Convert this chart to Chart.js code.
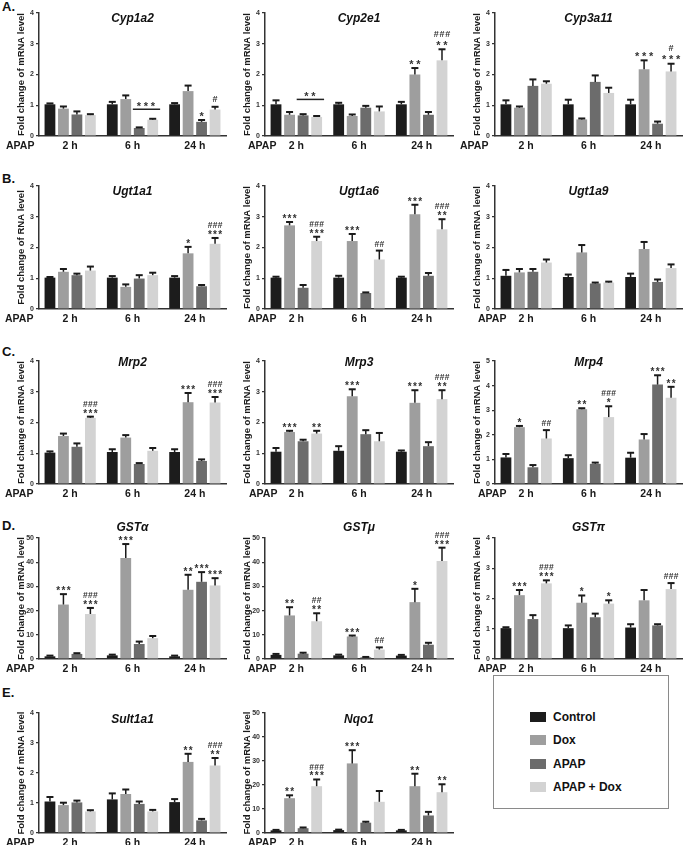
<!DOCTYPE html>
<html><head><meta charset="utf-8">
<script src="https://cdn.jsdelivr.net/npm/chart.js@4.4.1/dist/chart.umd.min.js"></script>
<style>
html,body{margin:0;padding:0;width:685px;height:845px;overflow:hidden;background:#fff;}
body{position:relative;font-family:"Liberation Sans",Arial,sans-serif;}
canvas{position:absolute;}
.panel{position:absolute;left:2px;font-weight:bold;font-size:13px;line-height:14px;color:#111;}
#legend{position:absolute;left:493px;top:675px;width:176px;height:134px;border:1px solid #8a8a8a;box-sizing:border-box;}
.li{position:absolute;font-weight:bold;font-size:12px;line-height:13px;color:#111;white-space:nowrap;}
.sw{position:absolute;left:-23px;top:1px;width:16px;height:10px;}
</style></head><body>
<div class="panel" style="top:0px">A.</div>
<div class="panel" style="top:172px">B.</div>
<div class="panel" style="top:345px">C.</div>
<div class="panel" style="top:519px">D.</div>
<div class="panel" style="top:686px">E.</div>
<div id="legend"></div>
<script>
// ---------- data ----------
const timePoints = ['2 h', '6 h', '24 h'];
const groupNames = ['Control', 'Dox', 'APAP', 'APAP + Dox'];

// rows = groups (Control, Dox, APAP, APAP + Dox), columns = time points
const cyp1a2Mean = [[1.03,1.03,1.03],[0.89,1.20,1.46],[0.70,0.26,0.46],[0.68,0.53,0.86]];
const cyp1a2Err  = [[0.03,0.08,0.04],[0.07,0.12,0.18],[0.10,0.02,0.06],[0.03,0.03,0.09]];
const cyp1a2Sig  = [[2,2,'*',''],[2,3,'','#']];
const cyp1a2Brk  = [[1,2,3,0.87,'***']];

const cyp2e1Mean = [[1.03,1.03,1.03],[0.69,0.65,2.00],[0.67,0.92,0.69],[0.62,0.80,2.46]];
const cyp2e1Err  = [[0.13,0.05,0.08],[0.09,0.05,0.21],[0.04,0.06,0.09],[0.03,0.16,0.36]];
const cyp2e1Sig  = [[2,1,'**',''],[2,3,'**','###']];
const cyp2e1Brk  = [[0,2,3,1.19,'**']];

const cyp3a11Mean = [[1.03,1.03,1.03],[0.92,0.54,2.17],[1.63,1.76,0.40],[1.70,1.40,2.10]];
const cyp3a11Err  = [[0.13,0.15,0.15],[0.04,0.03,0.29],[0.21,0.21,0.07],[0.08,0.17,0.25]];
const cyp3a11Sig  = [[2,1,'***',''],[2,3,'***','#']];

const ugt1a1Mean = [[1.02,1.02,1.02],[1.21,0.72,1.81],[1.10,0.99,0.74],[1.25,1.10,2.12]];
const ugt1a1Err  = [[0.02,0.05,0.05],[0.09,0.08,0.21],[0.05,0.11,0.04],[0.13,0.08,0.19]];
const ugt1a1Sig  = [[2,1,'*',''],[2,3,'***','###']];

const ugt1a6Mean = [[1.02,1.02,1.02],[2.72,2.21,3.08],[0.69,0.52,1.08],[2.21,1.61,2.59]];
const ugt1a6Err  = [[0.03,0.06,0.03],[0.11,0.23,0.31],[0.09,0.02,0.09],[0.14,0.29,0.33]];
const ugt1a6Sig  = [[0,1,'***',''],[0,3,'***','###'],[1,1,'***',''],[1,3,'','##'],[2,1,'***',''],[2,3,'**','###']];

const ugt1a9Mean = [[1.08,1.04,1.04],[1.19,1.84,1.95],[1.21,0.83,0.88],[1.51,0.86,1.33]];
const ugt1a9Err  = [[0.19,0.08,0.11],[0.11,0.24,0.23],[0.09,0.03,0.08],[0.10,0.03,0.12]];
const ugt1a9Sig  = [];

const mrp2Mean = [[1.02,1.04,1.04],[1.56,1.51,2.66],[1.21,0.65,0.75],[2.15,1.08,2.65]];
const mrp2Err  = [[0.04,0.09,0.09],[0.08,0.08,0.30],[0.11,0.03,0.05],[0.04,0.09,0.18]];
const mrp2Sig  = [[0,3,'***','###'],[2,1,'***',''],[2,3,'***','###']];

const mrp3Mean = [[1.05,1.08,1.05],[1.69,2.85,2.64],[1.39,1.62,1.23],[1.64,1.39,2.76]];
const mrp3Err  = [[0.12,0.15,0.04],[0.04,0.23,0.41],[0.05,0.13,0.13],[0.09,0.27,0.29]];
const mrp3Sig  = [[0,1,'***',''],[0,3,'**',''],[1,1,'***',''],[2,1,'***',''],[2,3,'**','###']];

const mrp4Mean = [[1.08,1.05,1.07],[2.31,3.04,1.81],[0.68,0.82,4.04],[1.85,2.72,3.51]];
const mrp4Err  = [[0.14,0.12,0.20],[0.05,0.04,0.22],[0.09,0.05,0.38],[0.34,0.44,0.44]];
const mrp4Sig  = [[0,1,'*',''],[0,3,'','##'],[1,1,'**',''],[1,3,'*','###'],[2,2,'***',''],[2,3,'**','']];

const gstaMean = [[1.1,1.5,1.1],[22.5,41.7,28.6],[2.1,6.2,31.9],[18.6,8.6,30.4]];
const gstaErr  = [[0.3,0.3,0.3],[4.3,5.8,6.2],[0.3,1.0,4.0],[2.5,0.9,3.0]];
const gstaSig  = [[0,1,'***',''],[0,3,'***','###'],[1,1,'***',''],[2,1,'**',''],[2,2,'***',''],[2,3,'***','']];

const gstmMean = [[1.7,1.5,1.4],[18.0,9.3,23.5],[2.2,0.7,5.9],[15.6,3.9,40.5]];
const gstmErr  = [[0.4,0.3,0.3],[3.4,0.4,5.5],[0.4,0.15,0.8],[3.3,0.9,5.5]];
const gstmSig  = [[0,1,'**',''],[0,3,'**','##'],[1,1,'***',''],[1,3,'','##'],[2,1,'*',''],[2,3,'***','###']];

const gstpMean = [[1.02,1.02,1.04],[2.11,1.86,1.94],[1.32,1.38,1.11],[2.50,1.83,2.31]];
const gstpErr  = [[0.03,0.09,0.11],[0.17,0.24,0.34],[0.13,0.12,0.04],[0.10,0.11,0.20]];
const gstpSig  = [[0,1,'***',''],[0,3,'***','###'],[1,1,'*',''],[1,3,'*',''],[2,3,'','###']];

const sult1a1Mean = [[1.05,1.12,1.03],[0.93,1.30,2.37],[1.02,0.97,0.42],[0.72,0.72,2.25]];
const sult1a1Err  = [[0.15,0.20,0.10],[0.08,0.15,0.27],[0.06,0.08,0.05],[0.04,0.05,0.25]];
const sult1a1Sig  = [[2,1,'**',''],[2,3,'**','###']];

const nqo1Mean = [[1.1,1.2,1.1],[14.5,29.0,19.5],[2.0,4.3,7.3],[19.5,13.0,17.0]];
const nqo1Err  = [[0.2,0.2,0.2],[1.2,5.5,5.2],[0.3,0.4,1.5],[2.8,4.5,3.3]];
const nqo1Sig  = [[0,1,'**',''],[0,3,'***','###'],[1,1,'***',''],[2,1,'**',''],[2,3,'**','']];

const yTitleMRNA = 'Fold change of mRNA level';
const yTitleRNA  = 'Fold change of RNA level';

// ---------- layout / style ----------
const groupColors = ['#1c1c1c','#9e9e9e','#6c6c6c','#d3d3d3'];
const rowGeom = [
  {top:13,  bottom:136, titleDy:5.5, sf:11, sp:7,   hf:9,   hp:5.8, sOff:7, hOff:16},
  {top:186, bottom:309, titleDy:6,   sf:10, sp:5.2, hf:8.5, hp:5,   sOff:6, hOff:13},
  {top:361, bottom:484, titleDy:2,   sf:10, sp:5.2, hf:8.5, hp:5,   sOff:6, hOff:13},
  {top:538, bottom:659, titleDy:-10, sf:10, sp:5.2, hf:8.5, hp:5,   sOff:6, hOff:13},
  {top:713, bottom:833, titleDy:7,   sf:10, sp:5.2, hf:8.5, hp:5,   sOff:6, hOff:13}
];
const colGeom = [
  {canvasLeft:0,   plotLeft:39,  plotRight:226},
  {canvasLeft:226, plotLeft:265, plotRight:453},
  {canvasLeft:456, plotLeft:495, plotRight:682}
];

const panels = [
  {title:'Cyp1a2',  row:0,col:0,ymax:4, step:1, mean:cyp1a2Mean, err:cyp1a2Err, sig:cyp1a2Sig, brk:cyp1a2Brk, yt:yTitleMRNA, apap:6},
  {title:'Cyp2e1',  row:0,col:1,ymax:4, step:1, mean:cyp2e1Mean, err:cyp2e1Err, sig:cyp2e1Sig, brk:cyp2e1Brk, yt:yTitleMRNA, apap:22},
  {title:'Cyp3a11', row:0,col:2,ymax:4, step:1, mean:cyp3a11Mean,err:cyp3a11Err,sig:cyp3a11Sig,brk:[], yt:yTitleMRNA, apap:4},
  {title:'Ugt1a1',  row:1,col:0,ymax:4, step:1, mean:ugt1a1Mean, err:ugt1a1Err, sig:ugt1a1Sig, brk:[], yt:yTitleRNA, apap:5},
  {title:'Ugt1a6',  row:1,col:1,ymax:4, step:1, mean:ugt1a6Mean, err:ugt1a6Err, sig:ugt1a6Sig, brk:[], yt:yTitleMRNA, apap:22},
  {title:'Ugt1a9',  row:1,col:2,ymax:4, step:1, mean:ugt1a9Mean, err:ugt1a9Err, sig:ugt1a9Sig, brk:[], yt:yTitleMRNA, apap:22},
  {title:'Mrp2',    row:2,col:0,ymax:4, step:1, mean:mrp2Mean, err:mrp2Err, sig:mrp2Sig, brk:[], yt:yTitleMRNA, apap:5},
  {title:'Mrp3',    row:2,col:1,ymax:4, step:1, mean:mrp3Mean, err:mrp3Err, sig:mrp3Sig, brk:[], yt:yTitleMRNA, apap:23},
  {title:'Mrp4',    row:2,col:2,ymax:5, step:1, mean:mrp4Mean, err:mrp4Err, sig:mrp4Sig, brk:[], yt:yTitleMRNA, apap:22},
  {title:'GSTα',    row:3,col:0,ymax:50,step:10,mean:gstaMean, err:gstaErr, sig:gstaSig, brk:[], yt:yTitleMRNA, apap:6},
  {title:'GSTμ',    row:3,col:1,ymax:50,step:10,mean:gstmMean, err:gstmErr, sig:gstmSig, brk:[], yt:yTitleMRNA, apap:22},
  {title:'GSTπ',    row:3,col:2,ymax:4, step:1, mean:gstpMean, err:gstpErr, sig:gstpSig, brk:[], yt:yTitleMRNA, apap:22},
  {title:'Sult1a1', row:4,col:0,ymax:4, step:1, mean:sult1a1Mean,err:sult1a1Err,sig:sult1a1Sig,brk:[], yt:yTitleMRNA, apap:6},
  {title:'Nqo1',    row:4,col:1,ymax:50,step:10,mean:nqo1Mean, err:nqo1Err, sig:nqo1Sig, brk:[], yt:yTitleMRNA, apap:22}
];

const FONT = '"Liberation Sans", Arial, sans-serif';
Chart.defaults.font.family = FONT;

function drawSpaced(ctx, text, cx, baseline, pitch){
  const n = text.length;
  const x0 = cx - (n-1)*pitch/2;
  for (let i=0;i<n;i++) ctx.fillText(text[i], x0 + i*pitch, baseline);
}

function makePanel(p){
  const rg = rowGeom[p.row], cg = colGeom[p.col];
  const canvasTop = Math.max(0, rg.top - 24);
  const padTop = rg.top - canvasTop;
  const w = cg.plotRight - cg.canvasLeft + 3;
  const h = rg.bottom - canvasTop + 20;
  const cv = document.createElement('canvas');
  cv.width = w; cv.height = h;
  cv.style.left = cg.canvasLeft + 'px'; cv.style.top = canvasTop + 'px';
  cv.style.width = w + 'px'; cv.style.height = h + 'px';
  document.body.appendChild(cv);

  const annot = {
    id: 'annot_' + p.title,
    afterDatasetsDraw(chart){
      const ctx = chart.ctx, ys = chart.scales.y;
      ctx.save();
      ctx.strokeStyle = '#1a1a1a';
      for (let g=0; g<4; g++){
        const meta = chart.getDatasetMeta(g);
        meta.data.forEach((el, t) => {
          const top = ys.getPixelForValue(p.mean[g][t] + p.err[g][t]);
          ctx.lineWidth = 1.5;
          ctx.beginPath(); ctx.moveTo(el.x, el.y); ctx.lineTo(el.x, top); ctx.stroke();
          ctx.lineWidth = 2;
          ctx.beginPath(); ctx.moveTo(el.x-3.5, top); ctx.lineTo(el.x+3.5, top); ctx.stroke();
        });
      }
      ctx.fillStyle = '#333';
      ctx.textAlign = 'center';
      ctx.textBaseline = 'alphabetic';
      p.sig.forEach(([t,g,stars,hashes]) => {
        const el = chart.getDatasetMeta(g).data[t];
        const top = ys.getPixelForValue(p.mean[g][t] + p.err[g][t]);
        if (stars){
          ctx.font = 'bold ' + rg.sf + 'px ' + FONT;
          drawSpaced(ctx, stars, el.x, top - rg.sOff + 0.6*rg.sf, rg.sp);
        }
        if (hashes){
          const cy = stars ? top - rg.hOff : top - rg.sOff - 1;
          ctx.font = 'bold ' + rg.hf + 'px ' + FONT;
          drawSpaced(ctx, hashes, el.x, cy + 0.36*rg.hf, rg.hp);
        }
      });
      p.brk.forEach(([t,g1,g2,level,stars]) => {
        const e1 = chart.getDatasetMeta(g1).data[t], e2 = chart.getDatasetMeta(g2).data[t];
        const y = ys.getPixelForValue(level);
        ctx.strokeStyle = '#222'; ctx.lineWidth = 1.5;
        ctx.beginPath(); ctx.moveTo(e1.x - e1.width/2 - 1, y); ctx.lineTo(e2.x + e2.width/2 + 2, y); ctx.stroke();
        ctx.font = 'bold ' + rg.sf + 'px ' + FONT;
        drawSpaced(ctx, stars, (e1.x + e2.x)/2, y - 6 + 0.6*rg.sf, rg.sp);
      });
      ctx.restore();
    },
    afterDraw(chart){
      const ctx = chart.ctx, ca = chart.chartArea;
      ctx.save();
      ctx.fillStyle = '#111';
      ctx.font = 'italic bold 12px ' + FONT;
      ctx.textAlign = 'center'; ctx.textBaseline = 'middle';
      ctx.fillText(p.title, (ca.left + ca.right)/2, ca.top + rg.titleDy);
      ctx.font = 'bold 10.5px ' + FONT;
      ctx.textAlign = 'left';
      ctx.fillStyle = '#1a1a1a';
      ctx.fillText('APAP', p.apap, ca.bottom + 10.3);
      ctx.restore();
    }
  };

  new Chart(cv, {
    type: 'bar',
    data: {
      labels: timePoints,
      datasets: groupNames.map((n,g) => ({
        label: n, data: p.mean[g], backgroundColor: groupColors[g],
        borderWidth: 0, barPercentage: 0.8, categoryPercentage: 0.865
      }))
    },
    options: {
      responsive: false, animation: false, devicePixelRatio: 1,
      layout: {padding: {top: padTop, right: 3, bottom: 0, left: 0}},
      plugins: {legend: {display: false}, tooltip: {enabled: false}, title: {display: false}},
      scales: {
        x: {
          grid: {display: false, drawTicks: false},
          border: {display: true, color: '#333', width: 1.5},
          ticks: {font: {size: 10.5, weight: 'bold'}, color: '#1a1a1a', padding: 4, maxRotation: 0, autoSkip: false},
          afterFit: s => { s.height = 20; }
        },
        y: {
          min: 0, max: p.ymax,
          ticks: {stepSize: p.step, font: {size: 7, weight: 'bold'}, color: '#333', padding: 2},
          grid: {display: true, drawOnChartArea: false, drawTicks: true, tickLength: 3, color: '#333', lineWidth: 1.2},
          border: {display: true, color: '#333', width: 1.5},
          title: {display: true, text: p.yt, font: {size: 9.5, weight: 'bold'}, color: '#1a1a1a', padding: {top: 16, bottom: 0}},
          afterFit: s => { s.width = cg.plotLeft - cg.canvasLeft; }
        }
      }
    },
    plugins: [annot]
  });
}
panels.forEach(makePanel);

// legend
const lg = document.getElementById('legend');
const legendTops = [35, 58, 82, 105];
groupNames.forEach((n,g) => {
  const d = document.createElement('div');
  d.className = 'li';
  d.style.left = '59px';
  d.style.top = legendTops[g] + 'px';
  const sw = document.createElement('span');
  sw.className = 'sw';
  sw.style.background = groupColors[g];
  d.appendChild(sw);
  d.appendChild(document.createTextNode(n));
  lg.appendChild(d);
});
</script>
</body></html>
